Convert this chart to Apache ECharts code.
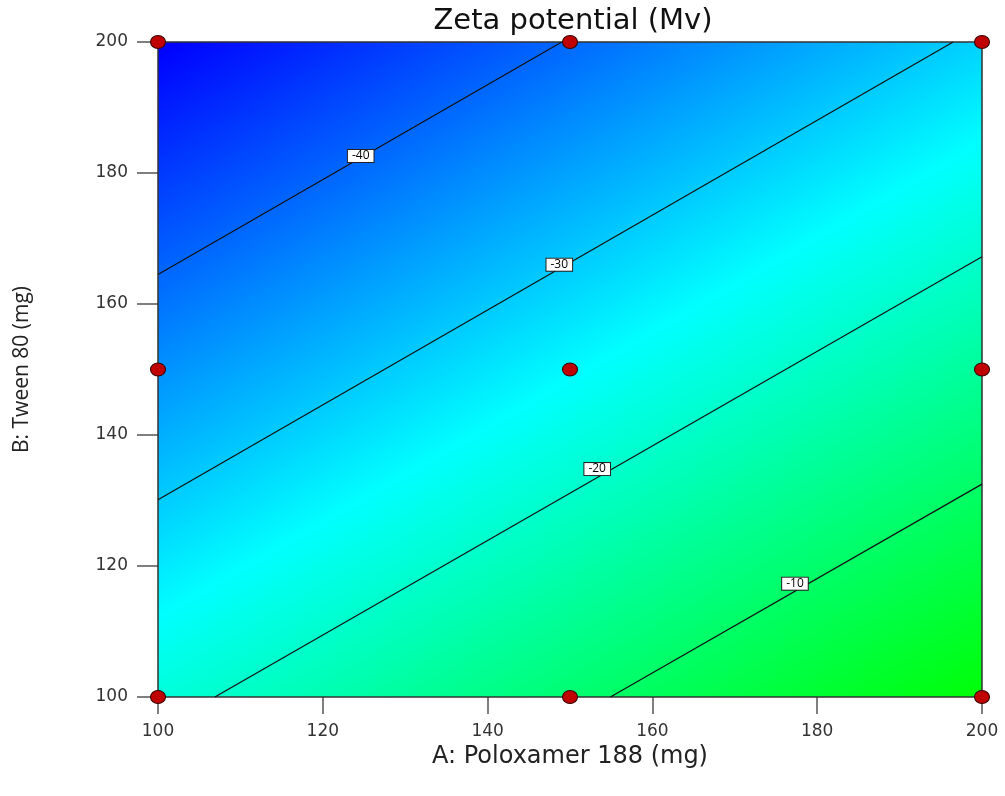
<!DOCTYPE html>
<html>
<head>
<meta charset="utf-8">
<script src="https://cdn.jsdelivr.net/npm/echarts@6/dist/echarts.min.js"></script>
<style>
  html, body { margin: 0; padding: 0; background: #fff; }
  #chart { width: 1005px; height: 796px; }
</style>
</head>
<body>
<div id="chart"></div>
<script>
// design points (A: Poloxamer 188, B: Tween 80)
const designA = [100, 100, 100, 150, 150, 150, 200, 200, 200];
const designB = [100, 150, 200, 100, 150, 200, 100, 150, 200];

// contour levels with their end points [A, B]
const contourLevels = [-40, -30, -20, -10];
const contourStart = [[100, 164.5], [100, 130.1], [106.9, 100], [154.9, 100]];
const contourEnd = [[149, 200], [196.5, 200], [200, 167.2], [200, 132.5]];
// where each level label sits
const labelPos = [[124.6, 182.6], [148.7, 166.0], [153.3, 134.8], [177.3, 117.3]];

// colour scale of the response, from min to max
const fieldMin = -50;
const fieldMax = 0;
const fieldColors = ['#0000ff', '#00ffff', '#00ff00'];

const wide = 'DejaVu Sans';
const narrow = 'Open Sans';
const chart = echarts.init(document.getElementById('chart'));

const contourSeries = contourLevels.map((lv, i) => ({
  type: 'line',
  name: String(lv),
  data: [contourStart[i], contourEnd[i]],
  showSymbol: false,
  symbol: 'none',
  lineStyle: { color: '#111', width: 1.2 },
  z: 3,
  silent: true
}));

const option = {
  animation: false,
  title: {
    text: 'Zeta potential (Mv)',
    left: 568,
    textAlign: 'center',
    top: 2,
    textStyle: { fontFamily: wide, fontSize: 29, fontWeight: 'normal', color: '#111' }
  },
  grid: { left: 158, right: 23, top: 42, bottom: 99 },
  xAxis: {
    type: 'value', min: 100, max: 200, interval: 20,
    name: 'A: Poloxamer 188 (mg)',
    nameLocation: 'middle', nameGap: 38,
    nameTextStyle: { fontFamily: wide, fontSize: 24, color: '#222' },
    axisLine: { show: false },
    axisTick: { show: true, length: 17, lineStyle: { color: '#555', width: 1.5 } },
    axisLabel: { fontFamily: wide, fontSize: 17, color: '#333', margin: 26 },
    splitLine: { show: false }
  },
  yAxis: {
    type: 'value', min: 100, max: 200, interval: 20,
    name: 'B: Tween 80 (mg)',
    nameLocation: 'middle', nameGap: 125, nameRotate: 90,
    nameTextStyle: { fontFamily: narrow, fontSize: 21, color: '#222' },
    axisLine: { show: false },
    axisTick: { show: true, length: 21, lineStyle: { color: '#555', width: 1.5 } },
    axisLabel: { fontFamily: wide, fontSize: 17, color: '#333', margin: 30 },
    splitLine: { show: false }
  },
  series: [
    {
      type: 'custom',
      z: 1,
      silent: true,
      data: [[100, 200, 200, 100]],
      renderItem: function (params, api) {
        const tl = api.coord([api.value(0), api.value(1)]);
        const br = api.coord([api.value(2), api.value(3)]);
        // gradient direction: normal of the first contour, scaled by spacing to the last one
        const p1 = api.coord(contourStart[0]);
        const p2 = api.coord(contourEnd[0]);
        let ux = p2[0] - p1[0], uy = p2[1] - p1[1];
        const len = Math.hypot(ux, uy);
        ux /= len; uy /= len;
        let nx = -uy, ny = ux;
        const q = api.coord(contourStart[contourStart.length - 1]);
        let d = (q[0] - p1[0]) * nx + (q[1] - p1[1]) * ny;
        if (d < 0) { nx = -nx; ny = -ny; d = -d; }
        const perUnit = d / (contourLevels[contourLevels.length - 1] - contourLevels[0]);
        const a = (fieldMin - contourLevels[0]) * perUnit;
        const b = (fieldMax - contourLevels[0]) * perUnit;
        const grad = new echarts.graphic.LinearGradient(
          p1[0] + nx * a, p1[1] + ny * a, p1[0] + nx * b, p1[1] + ny * b,
          fieldColors.map((c, i) => ({ offset: i / (fieldColors.length - 1), color: c })),
          true
        );
        return {
          type: 'rect',
          shape: { x: tl[0], y: tl[1], width: br[0] - tl[0], height: br[1] - tl[1] },
          style: { fill: grad, stroke: '#333', lineWidth: 1.5 }
        };
      }
    },
    ...contourSeries,
    {
      type: 'scatter',
      z: 4,
      silent: true,
      symbolSize: 0,
      itemStyle: { opacity: 1 },
      data: labelPos.map((p, i) => [p[0], p[1], contourLevels[i]]),
      label: {
        show: true,
        position: 'inside',
        formatter: p => String(p.value[2]),
        fontFamily: narrow,
        fontSize: 12,
        color: '#000',
        opacity: 1,
        backgroundColor: '#ffffff',
        borderColor: '#222',
        borderWidth: 1,
        padding: [0, 4, 0, 4]
      }
    },
    {
      type: 'scatter',
      z: 5,
      clip: false,
      silent: true,
      symbol: 'circle',
      symbolSize: [15, 13],
      data: designA.map((a, i) => [a, designB[i]]),
      itemStyle: { color: '#c00000', borderColor: '#3a0000', borderWidth: 1, opacity: 1 }
    }
  ]
};

chart.setOption(option);
</script>
</body>
</html>
